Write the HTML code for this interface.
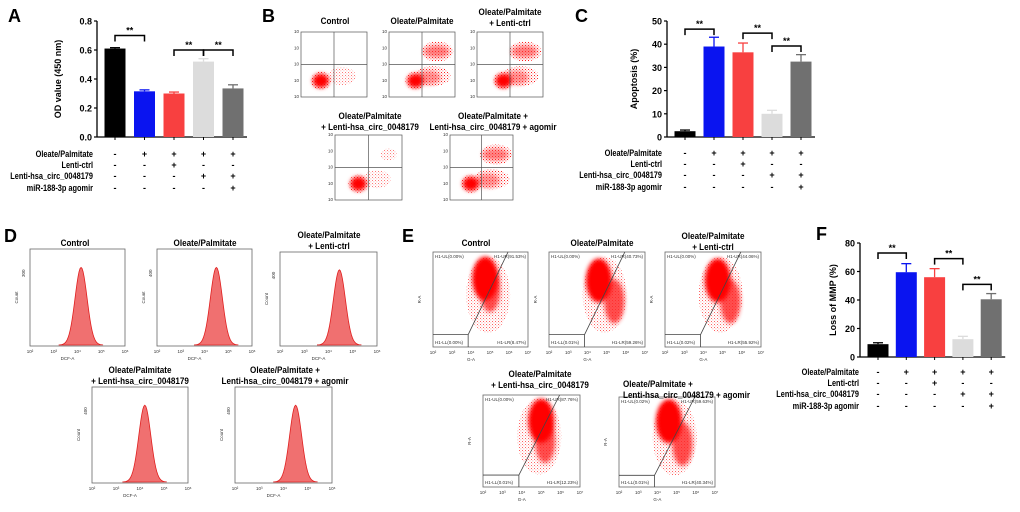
<!DOCTYPE html>
<html><head><meta charset="utf-8"><style>
html,body{margin:0;padding:0;background:#fff;}
svg{display:block;font-family:"Liberation Sans",Arial,sans-serif;}
.t{font-weight:bold;font-size:9px;fill:#000;}
.lab{font-weight:bold;font-size:18px;}
.ax{font-size:4.5px;fill:#333;}
</style></head><body>
<svg id="fig" width="1020" height="512" viewBox="0 0 1020 512">
<defs><filter id="blur" x="-50%" y="-50%" width="200%" height="200%"><feGaussianBlur stdDeviation="2.2"/></filter>
<filter id="blur2" x="-50%" y="-50%" width="200%" height="200%"><feGaussianBlur stdDeviation="4"/></filter>
<pattern id="dots" width="3" height="3" patternUnits="userSpaceOnUse"><rect x="0" y="0" width="1" height="1" fill="#ff2020"/><rect x="1.5" y="1.5" width="0.8" height="0.8" fill="#ff4040"/></pattern></defs>
<g id="root"></g>
</svg>
<script>
// ---- bar chart data ----
const groups = ["Control","Oleate/Palmitate","OP + Lenti-ctrl","OP + Lenti-hsa_circ_0048179","OP + Lenti-hsa_circ + agomir"];
const barColors = ["#000000","#0a14f0","#f84040","#dcdcdc","#707070"];
const aVals = [0.61,0.315,0.30,0.52,0.335];
const aErr = [0.006,0.01,0.01,0.02,0.025];
const aTicks = [0,0.2,0.4,0.6,0.8];
const aTickLabels = ["0.0","0.2","0.4","0.6","0.8"];
const aBrackets = [[0,1,0.70],[2,3,0.60],[3,4,0.60]];
const cVals = [2.5,39,36.5,10,32.5];
const cErr = [0.5,4,4,1.5,3];
const cTicks = [0,10,20,30,40,50];
const cBrackets = [[0,1,46.5],[2,3,44.8],[3,4,39.2]];
const fVals = [9,59.5,56,12.5,40.5];
const fErr = [1,6,6,2,4];
const fTicks = [0,20,40,60,80];
const fBrackets = [[0,1,73],[2,3,69],[3,4,51]];
const rowNames = ["Oleate/Palmitate","Lenti-ctrl","Lenti-hsa_circ_0048179","miR-188-3p agomir"];
const signs = [["-","+","+","+","+"],["-","-","+","-","-"],["-","-","-","+","+"],["-","-","-","-","+"]];
const dPeaks = [4.15,4.5,4.45,4.2,4.5];
const dMaxCount = ["300","400","400","400","400"];
const ePrimary = [[0.55,0.28],[0.52,0.3],[0.55,0.3],[0.6,0.28],[0.52,0.27]];
const eSecondary = [[0.60,0.4],[0.68,0.52],[0.68,0.52],[0.64,0.5],[0.66,0.52]];
const bLL = [[0.3,0.75],[0.4,0.75],[0.4,0.75],[0.35,0.75],[0.33,0.75]];
const bUR = [0,1,1,0.3,1];

const NS="http://www.w3.org/2000/svg";
const root=document.getElementById('root');
function el(tag,attrs,parent,text){const e=document.createElementNS(NS,tag);for(const k in attrs)e.setAttribute(k,attrs[k]);if(text!==undefined)e.textContent=text;(parent||root).appendChild(e);return e;}

function panelLetter(x,y,t){const e=el('text',{x:x,y:y,class:'lab'},root,t);

}
panelLetter(8,22,"A");panelLetter(262,22,"B");panelLetter(575,22,"C");
panelLetter(4,242,"D");panelLetter(402,242,"E");panelLetter(816,240,"F");

function barChart(name,cfg){
 const g=el('g',{},root);
 
 
 const ys=v=>cfg.y0-(v/cfg.max)*(cfg.y0-cfg.yTop);
 const xs=i=>cfg.ax+18+i*cfg.sp;
 const endX=xs(4)+14;
 el('line',{x1:cfg.ax,y1:cfg.yTop,x2:cfg.ax,y2:cfg.y0,stroke:'#000','stroke-width':1.3},g);
 el('line',{x1:cfg.ax,y1:cfg.y0,x2:endX,y2:cfg.y0,stroke:'#000','stroke-width':1.3},g);
 cfg.ticks.forEach((t,i)=>{const y=ys(t);
  el('line',{x1:cfg.ax-3,y1:y,x2:cfg.ax,y2:y,stroke:'#000','stroke-width':1.2},g);
  const tx=el('text',{x:cfg.ax-5,y:y+3.5,'text-anchor':'end',class:'t','font-size':'9.5'},g,cfg.labels?cfg.labels[i]:String(t));
  
  });
 const yt=el('text',{x:0,y:0,'text-anchor':'middle',class:'t','font-size':'9.5',transform:`translate(${cfg.titleX},${(cfg.y0+cfg.yTop)/2}) rotate(-90)`},g,cfg.title);
 
 
 cfg.vals.forEach((v,i)=>{const x=xs(i);
  el('line',{x1:x,y1:ys(v),x2:x,y2:ys(v+cfg.err[i]),stroke:barColors[i],'stroke-width':1.3},g);
  el('line',{x1:x-5,y1:ys(v+cfg.err[i]),x2:x+5,y2:ys(v+cfg.err[i]),stroke:barColors[i],'stroke-width':1.3},g);
  const r=el('rect',{x:x-10.5,y:ys(v),width:21,height:cfg.y0-ys(v),fill:barColors[i]},g);
  
  
  el('line',{x1:x,y1:cfg.y0,x2:x,y2:cfg.y0+3,stroke:'#000','stroke-width':1},g);});
 cfg.br.forEach(b=>{const y=ys(b[2]);const x1=xs(b[0]),x2=xs(b[1]);
  const p=el('path',{d:`M${x1},${y+6}V${y}H${x2}V${y+6}`,fill:'none',stroke:'#000','stroke-width':1.5},g);
  
  
  el('text',{x:(x1+x2)/2,y:y-2,'text-anchor':'middle',class:'t','font-size':'10'},g,'**');});
 rowNames.forEach((n,r)=>{const y=cfg.rowY[r];
  const t=el('text',{x:0,y:0,'text-anchor':'end',class:'t','font-size':'7.5',transform:`translate(${cfg.labX},${y}) scale(0.82,1)`},g,n);
  
  
  signs[r].forEach((s,i)=>el('text',{x:xs(i),y:y,'text-anchor':'middle',class:'t','font-size':'8.5'},g,s));});
}
barChart('bar-chart-a',{ax:97,y0:137,yTop:21,max:0.8,sp:29.5,vals:aVals,err:aErr,ticks:aTicks,labels:aTickLabels,br:aBrackets,title:'OD value (450 nm)',titleX:61,labX:93,rowY:[157,168,179,191]});
barChart('bar-chart-c',{ax:667,y0:137,yTop:21,max:50,sp:29,vals:cVals,err:cErr,ticks:cTicks,br:cBrackets,title:'Apoptosis (%)',titleX:637,labX:662,rowY:[156,167,178,190]});
barChart('bar-chart-f',{ax:860,y0:357,yTop:243,max:80,sp:28.3,vals:fVals,err:fErr,ticks:fTicks,br:fBrackets,title:'Loss of MMP (%)',titleX:836,labX:859,rowY:[375,386,397,409]});

function titles(lines,cx,y,anchor,fs){lines.forEach((l,i)=>{const t=el('text',{x:0,y:0,'text-anchor':anchor||'middle',class:'t','font-size':fs||'8.5',transform:`translate(${cx},${y+i*11}) scale(0.9,1)`},root,l);
 
 });}

// ---- Panel B ----
const bBoxes=[[301,32,66,65],[389,32,66,65],[477,32,66,65],[335,135,67,65],[450,135,63,65]];
bBoxes.forEach((b,i)=>{const [x,y,w,h]=b;
 const g=el('g',{},root);
 
 
 el('rect',{x:x,y:y,width:w,height:h,fill:'#fff',stroke:'#555','stroke-width':0.7},g);
 if(bUR[i]>0.5){
  el('ellipse',{cx:x+w*0.73,cy:y+h*0.3,rx:16,ry:10,fill:'url(#dots)'},g);
  el('ellipse',{cx:x+w*0.72,cy:y+h*0.3,rx:13,ry:6,fill:'#ff3030',opacity:0.6,filter:'url(#blur)'},g);
  el('ellipse',{cx:x+w*0.66,cy:y+h*0.68,rx:18,ry:10,fill:'url(#dots)'},g);
  el('ellipse',{cx:x+w*0.6,cy:y+h*0.7,rx:12,ry:7,fill:'#ff3030',opacity:0.5,filter:'url(#blur)'},g);}
 else {el('ellipse',{cx:x+w*0.62,cy:y+h*0.68,rx:14,ry:9,fill:'url(#dots)',opacity:0.6},g);
  if(bUR[i]>0)el('ellipse',{cx:x+w*0.8,cy:y+h*0.3,rx:8,ry:6,fill:'url(#dots)',opacity:0.6},g);}
 el('ellipse',{cx:x+w*bLL[i][0],cy:y+h*bLL[i][1],rx:10,ry:9,fill:'url(#dots)'},g);
 el('ellipse',{cx:x+w*bLL[i][0],cy:y+h*bLL[i][1],rx:8,ry:7,fill:'#ff0000',filter:'url(#blur)'},g);
 el('line',{x1:x+w/2,y1:y,x2:x+w/2,y2:y+h,stroke:'#555','stroke-width':0.7},g);
 el('line',{x1:x,y1:y+h/2,x2:x+w,y2:y+h/2,stroke:'#555','stroke-width':0.7},g);
 for(let k=0;k<5;k++)el('text',{x:x-2,y:y+h-k*h/4+1,'text-anchor':'end',class:'ax','font-size':'3.5'},g,'10');
});
titles(["Control"],335,24,'middle','8');titles(["Oleate/Palmitate"],422,24,'middle','8');titles(["Oleate/Palmitate","+ Lenti-ctrl"],510,15,'middle','8');
titles(["Oleate/Palmitate","+ Lenti-hsa_circ_0048179"],370,119,'middle','8');titles(["Oleate/Palmitate +","Lenti-hsa_circ_0048179 + agomir"],493,119,'middle','8');

// ---- Panel D histograms ----
const dBoxes=[[30,249,95,97],[157,249,95,97],[280,252,97,94],[92,387,96,96],[235,387,97,96]];
dBoxes.forEach((b,i)=>{const [x,y,w,h]=b;
 const g=el('g',{},root);
 
 
 el('rect',{x:x,y:y,width:w,height:h,fill:'#fff',stroke:'#666','stroke-width':0.8},g);
 const lx=v=>x+(v-2)/4*w;
 const px=lx(dPeaks[i]),top=y+h*0.19,base=y+h-1;
 let d=`M${px-22},${base}`;
 for(let k=-22;k<=22;k++){const s=k/6;d+=` L${px+k},${base-(base-top)*Math.exp(-s*s/2)}`;}
 d+=' Z';
 el('path',{d:d,fill:'#f07070',stroke:'#e02020','stroke-width':0.8},g);
 for(let k=2;k<=6;k++)el('text',{x:lx(k),y:y+h+7,'text-anchor':'middle',class:'ax'},g,'10'+['²','³','⁴','⁵','⁶'][k-2]);
 el('text',{x:x+w/2-10,y:y+h+14,'text-anchor':'middle',class:'ax'},g,'DCF-A');
 el('text',{x:0,y:0,'text-anchor':'middle',class:'ax',transform:`translate(${x-12},${y+h/2}) rotate(-90)`},g,'Count');
 el('text',{x:0,y:0,'text-anchor':'middle',class:'ax',transform:`translate(${x-5},${y+h*0.25}) rotate(-90)`},g,dMaxCount[i]);
});
titles(["Control"],75,246);titles(["Oleate/Palmitate"],205,246);titles(["Oleate/Palmitate","+ Lenti-ctrl"],329,238);
titles(["Oleate/Palmitate","+ Lenti-hsa_circ_0048179"],140,373);titles(["Oleate/Palmitate +","Lenti-hsa_circ_0048179 + agomir"],285,373);

// ---- Panel E scatter ----
const eBoxes=[[433,252,95,95],[549,252,96,95],[665,252,96,95],[483,395,97,92],[619,397,96,90]];
const eQuad=[["H1-UL(0.00%)","H1-UR(91.53%)","H1-LL(0.00%)","H1-LR(8.47%)"],["H1-UL(0.00%)","H1-UR(40.73%)","H1-LL(0.01%)","H1-LR(59.26%)"],["H1-UL(0.00%)","H1-UR(44.06%)","H1-LL(0.02%)","H1-LR(55.92%)"],["H1-UL(0.00%)","H1-UR(87.76%)","H1-LL(0.01%)","H1-LR(12.23%)"],["H1-UL(0.02%)","H1-UR(59.63%)","H1-LL(0.01%)","H1-LR(40.34%)"]];
eBoxes.forEach((b,i)=>{const [x,y,w,h]=b;
 const g=el('g',{},root);
 
 
 el('rect',{x:x,y:y,width:w,height:h,fill:'#fff',stroke:'#666','stroke-width':0.8},g);
 el('ellipse',{cx:x+w*0.58,cy:y+h*0.45,rx:22,ry:38,fill:'url(#dots)',opacity:0.7},g);
 el('ellipse',{cx:x+w*eSecondary[i][0],cy:y+h*eSecondary[i][1],rx:10,ry:22,fill:'#ff2020',opacity:0.8,filter:'url(#blur)'},g);
 el('ellipse',{cx:x+w*ePrimary[i][0],cy:y+h*ePrimary[i][1],rx:13,ry:22,fill:'#ff0000',filter:'url(#blur)'},g);
 const gx=x+w*0.37,gy=y+h*0.87;
 el('path',{d:`M${x},${gy}H${gx}V${y+h}M${gx},${gy}L${x+w*0.79},${y}`,fill:'none',stroke:'#444','stroke-width':0.8},g);
 const q=eQuad[i];
 el('text',{x:x+2,y:y+6,class:'ax'},g,q[0]);el('text',{x:x+w-2,y:y+6,'text-anchor':'end',class:'ax'},g,q[1]);
 el('text',{x:x+2,y:y+h-3,class:'ax'},g,q[2]);el('text',{x:x+w-2,y:y+h-3,'text-anchor':'end',class:'ax'},g,q[3]);
 for(let k=2;k<=7;k++)el('text',{x:x+(k-2)/5*w,y:y+h+7,'text-anchor':'middle',class:'ax'},g,'10'+['²','³','⁴','⁵','⁶','⁷'][k-2]);
 el('text',{x:x+w*0.4,y:y+h+14,'text-anchor':'middle',class:'ax'},g,'G-A');
 el('text',{x:0,y:0,'text-anchor':'middle',class:'ax',transform:`translate(${x-12},${y+h/2}) rotate(-90)`},g,'R-A');
});
titles(["Control"],476,246);titles(["Oleate/Palmitate"],602,246);titles(["Oleate/Palmitate","+ Lenti-ctrl"],713,239);
titles(["Oleate/Palmitate","+ Lenti-hsa_circ_0048179"],540,377);titles(["Oleate/Palmitate +","Lenti-hsa_circ_0048179 + agomir"],623,387,'start');
</script>
</body></html>
